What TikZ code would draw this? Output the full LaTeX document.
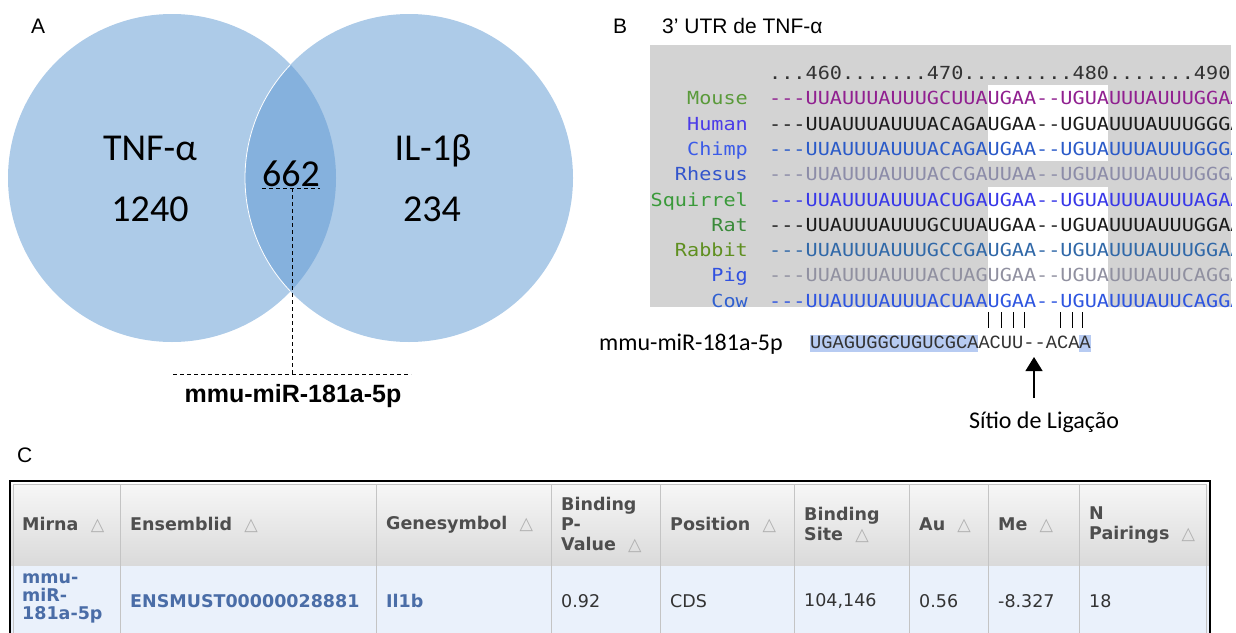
\documentclass[tikz,border=0pt]{standalone}
\usepackage{fontspec}
\setmainfont{Carlito}
\newfontfamily\arialfont{Liberation Sans}
\newfontfamily\alnfont[FakeStretch=1.12]{DejaVu Sans Mono}
\newfontfamily\mirfont{Liberation Mono}
\newfontfamily\tabfont{DejaVu Sans}
\usetikzlibrary{arrows.meta,positioning}
\newcommand{\fsz}[2]{\fontsize{#1}{#2}\selectfont}
\definecolor{vennLight}{HTML}{ADCBE8}
\definecolor{vennDark}{HTML}{85B1DD}
\definecolor{alnGray}{HTML}{D3D3D3}
\definecolor{alnRuler}{HTML}{333333}
\definecolor{mirHi}{HTML}{B7CBF2}
\definecolor{tabInk}{HTML}{4E4E4E}
\definecolor{tabText}{HTML}{333333}
\definecolor{tabBlue}{HTML}{4A6DA7}
\definecolor{tabRow}{HTML}{EAF1FB}
\definecolor{tabTop}{HTML}{F6F6F6}
\definecolor{tabBot}{HTML}{DADADA}
\definecolor{tabLine}{HTML}{C4C4C4}
\definecolor{tabSort}{HTML}{B0B0B0}
\definecolor{spMouse}{HTML}{5A9A3A}
\definecolor{spHuman}{HTML}{4B3BE8}
\definecolor{spChimp}{HTML}{3B5BE8}
\definecolor{spRhesus}{HTML}{3355CC}
\definecolor{spSquirrel}{HTML}{3A9A3A}
\definecolor{spRat}{HTML}{3A8A3A}
\definecolor{spRabbit}{HTML}{5F8F20}
\definecolor{spPig}{HTML}{3050E0}
\definecolor{spCow}{HTML}{3060D0}
\definecolor{sqMouse}{HTML}{902090}
\definecolor{sqHuman}{HTML}{1A1A1A}
\definecolor{sqChimp}{HTML}{2A5AC8}
\definecolor{sqRhesus}{HTML}{8C8CA8}
\definecolor{sqSquirrel}{HTML}{3838E8}
\definecolor{sqRat}{HTML}{1A1A1A}
\definecolor{sqRabbit}{HTML}{3068A8}
\definecolor{sqPig}{HTML}{9090A0}
\definecolor{sqCow}{HTML}{2E55E0}
\newcommand{\srt}{\hspace{0.7em}\textcolor{tabSort}{\mdseries △}}
\tikzset{
  panel label/.style={font=\arialfont\fsz{21}{24}, anchor=base west, inner sep=0},
  venn text/.style={font=\fsz{38}{42}, anchor=base, inner sep=0},
  venn guide/.style={draw=black, line width=1pt, dash pattern=on 4pt off 3pt},
  aln name/.style={font=\alnfont\fsz{18}{20}, anchor=base east, inner sep=0},
  aln row/.style={font=\alnfont\fsz{18}{20}, anchor=base west, inner sep=0},
  pair tick/.style={draw=black, line width=1pt},
  site arrow/.style={-{Triangle[length=14pt,width=17pt]}, draw=black, line width=1.3pt},
  tab head/.style={font=\tabfont\bfseries\fsz{17.5}{20}, text=tabInk, anchor=west,
    inner sep=0, align=left},
  tab cell/.style={font=\tabfont\fsz{17.5}{18}, text=tabText, anchor=west, inner sep=0,
    align=left},
  tab key/.style={tab cell, font=\tabfont\bfseries\fsz{17.5}{18}, text=tabBlue}
}
\begin{document}
\begin{tikzpicture}[x=1pt,y=-1pt]
  \useasboundingbox (0,0) rectangle (1236,632);
  % A
  \fill[vennLight] (172,178) circle (164pt);
  \fill[vennLight] (409,178) circle (164pt);
  \begin{scope}
    \clip (172,178) circle (164pt);
    \fill[vennDark] (409,178) circle (164pt);
    \draw[white, line width=0.8pt] (409,178) circle (164pt);
  \end{scope}
  \node[panel label] (labA) at (31,33) {A};
  \node[venn text] (tnf) at (150,160.5) {TNF-α};
  \node[venn text] (tnfN) at (150,221.5) {1240};
  \node[venn text] (both) at (291,186.5) {662};
  \node[venn text] (il) at (433,160.5) {IL-1β};
  \node[venn text] (ilN) at (432,221.5) {234};
  \node[font=\arialfont\bfseries\fsz{25}{28}, anchor=base, inner sep=0] (mirA) at (293,402) {mmu-miR-181a-5p};
  \coordinate (ul) at ([yshift=-1.5pt]both.base west);
  \coordinate (ur) at ([yshift=-1.5pt]both.base east);
  \coordinate (hub) at (292,374);
  \coordinate (hl) at (173,374);
  \coordinate (hr) at (411,374);
  \draw[venn guide] (ul) -- (ur);
  \draw[venn guide] (ul -| hub) -- (hub);
  \draw[venn guide] (hl) -- (hr);
  % B
  \node[panel label] (labB) at (613,33) {B};
  \node[panel label] (utr) at (662,33) {3’ UTR de TNF-α};
  \fill[alnGray] (650,45) rectangle (1231,307);
  \fill[white] (988,85) rectangle (1108,161);
  \fill[white] (988,187) rectangle (1108,307);
  \begin{scope}
    \clip (650,45) rectangle (1231,307);
    \node[aln row, text=alnRuler] (ruler) at (769,79.5) {...460.......470.........480.......490.};
    \foreach \nm/\nc/\sq/\sc [count=\i] in {
      Mouse/spMouse/{---UUAUUUAUUUGCUUAUGAA--UGUAUUUAUUUGGAA}/sqMouse,
      Human/spHuman/{---UUAUUUAUUUACAGAUGAA--UGUAUUUAUUUGGGA}/sqHuman,
      Chimp/spChimp/{---UUAUUUAUUUACAGAUGAA--UGUAUUUAUUUGGGA}/sqChimp,
      Rhesus/spRhesus/{---UUAUUUAUUUACCGAUUAA--UGUAUUUAUUUGGGA}/sqRhesus,
      Squirrel/spSquirrel/{---UUAUUUAUUUACUGAUGAA--UGUAUUUAUUUAGAA}/sqSquirrel,
      Rat/spRat/{---UUAUUUAUUUGCUUAUGAA--UGUAUUUAUUUGGAA}/sqRat,
      Rabbit/spRabbit/{---UUAUUUAUUUGCCGAUGAA--UGUAUUUAUUUGGAA}/sqRabbit,
      Pig/spPig/{---UUAUUUAUUUACUAGUGAA--UGUAUUUAUUCAGGA}/sqPig,
      Cow/spCow/{---UUAUUUAUUUACUAAUGAA--UGUAUUUAUUCAGGA}/sqCow} {
      \node[aln name, text=\nc] (sp\i) at (748,{79.5+25.3*\i}) {\nm};
      \node[aln row, text=\sc] (sq\i) at (769,{79.5+25.3*\i}) {\sq};
    }
  \end{scope}
  \foreach \x in {988,1001,1013,1024,1060,1072,1082}
    \draw[pair tick] (\x,312) -- (\x,328);
  \node[font=\fsz{24}{28}, anchor=base west, inner sep=0] (mirB) at (599,350) {mmu-miR-181a-5p};
  \fill[mirHi] (810,335) rectangle (978.3,352);
  \fill[mirHi] (1079.3,335) rectangle (1090.5,352);
  \node[font=\mirfont\fsz{18.7}{20}, text=tabText, anchor=base west, inner sep=0] (mirSeq) at (810,348) {UGAGUGGCUGUCGCAACUU--ACAA};
  \node[font=\fsz{24}{28}, anchor=base, inner sep=0] (site) at (1044,428) {Sítio de Ligação};
  \coordinate (tip) at (1034,357);
  \coordinate (tail) at (1034,398);
  \draw[site arrow] (tail) -- (tip);
  % C
  \node[panel label] (labC) at (17,462) {C};
  \fill[tabRow] (10,565) rectangle (1210,640);
  \shade[top color=tabTop, bottom color=tabBot] (10,485) rectangle (1210,565);
  \foreach \x in {120,376,551,660,794,909,988,1079}
    \draw[tabLine, line width=1pt] (\x,485) -- (\x,640);
  \draw[tabLine, line width=1pt] (13.5,484.5) rectangle (1206.5,650);
  \draw[black, line width=2.5pt] (10,481) rectangle (1210,650);
  \foreach \x/\t [count=\i] in {22/{Mirna\srt}, 130/{Ensemblid\srt}, 386/{Genesymbol\srt},
      561/{Binding\\P-\\Value\srt}, 670/{Position\srt}, 804/{Binding\\Site\srt},
      919/{Au\srt}, 998/{Me\srt}, 1089/{N\\Pairings\srt}}
    \node[tab head] (h\i) at (\x,525) {\t};
  \node[tab key] (d1) at (22,598) {mmu-\\miR-\\181a-5p};
  \node[tab key] (d2) at (130,601) {ENSMUST00000028881};
  \node[tab key] (d3) at (386,601) {Il1b};
  \foreach \x/\t [count=\i from 4] in {561/0.92, 670/CDS, 804/{104,146}, 919/0.56, 998/-8.327, 1089/18}
    \node[tab cell] (d\i) at (\x,601) {\t};
\end{tikzpicture}
\end{document}
